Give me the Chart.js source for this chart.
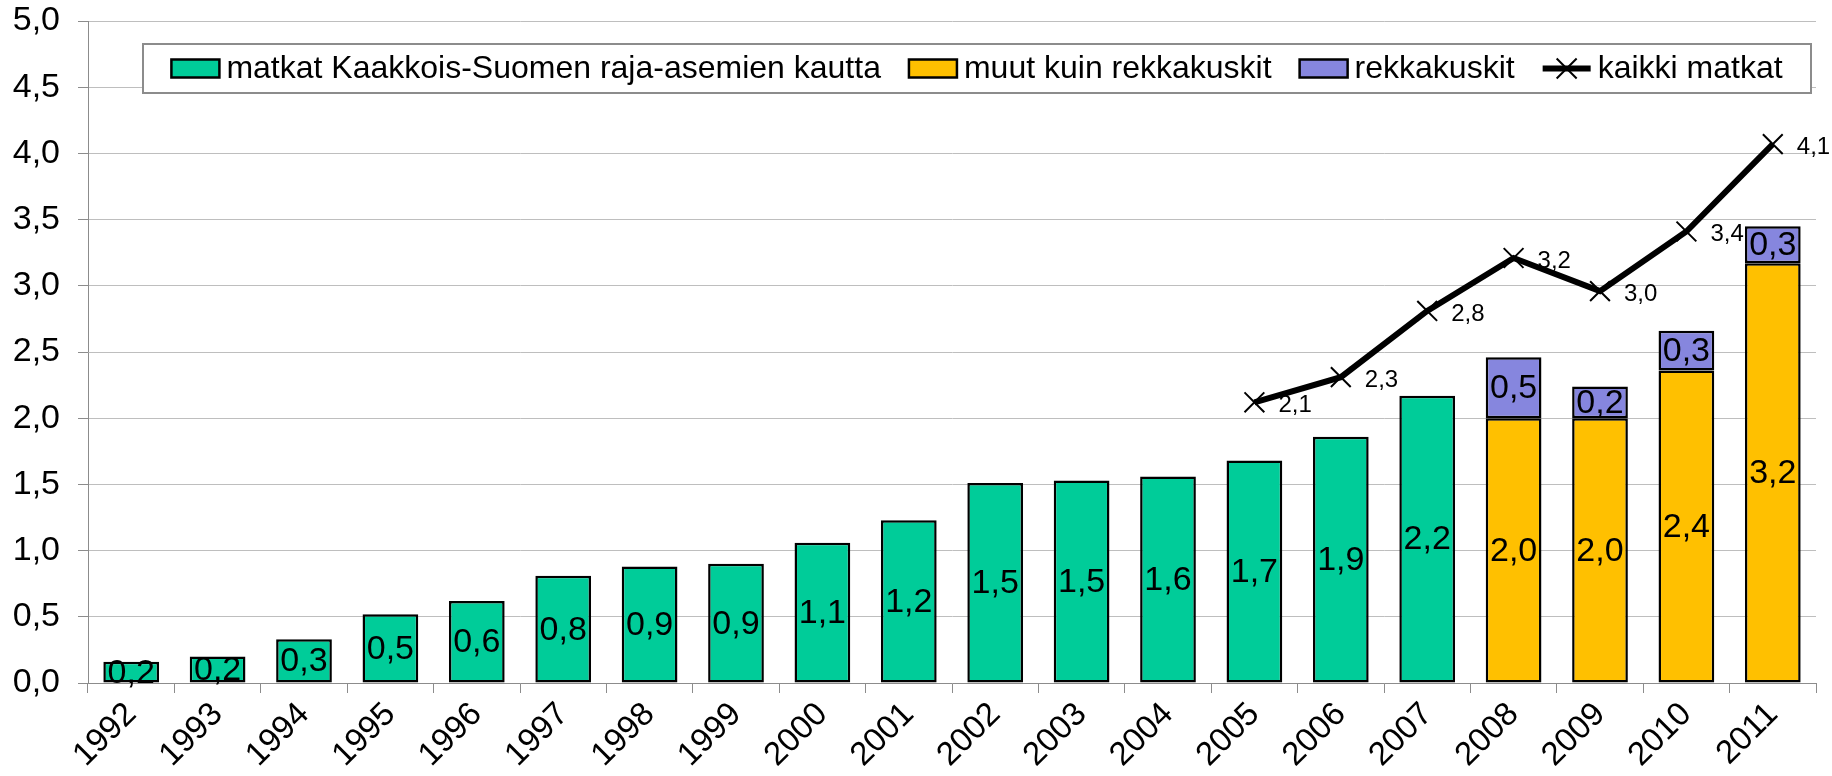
<!DOCTYPE html>
<html lang="fi">
<head>
<meta charset="utf-8">
<title>Matkat Kaakkois-Suomen raja-asemien kautta</title>
<script src="https://cdn.jsdelivr.net/npm/chart.js@4/dist/chart.umd.min.js"></script>
<style>
    html, body { margin: 0; padding: 0; background: #ffffff; }
    #wrap { width: 1832px; height: 776px; position: relative; }
</style>
</head>
<body>
<div id="wrap"><canvas id="chart"></canvas></div>
<script>
// vuodet ja sarjat (milj. matkaa)
const years = ['1992', '1993', '1994', '1995', '1996', '1997', '1998', '1999', '2000', '2001',
               '2002', '2003', '2004', '2005', '2006', '2007', '2008', '2009', '2010', '2011'];
const kaakkoisSuomi = [0.16, 0.20, 0.33, 0.52, 0.62, 0.81, 0.88, 0.90, 1.06, 1.23,
                       1.51, 1.53, 1.56, 1.68, 1.86, 2.17, null, null, null, null];
const muutKuinRekka = [null, null, null, null, null, null, null, null, null, null,
                       null, null, null, null, null, null, 2.00, 2.00, 2.36, 3.17];
const rekkakuskit = [null, null, null, null, null, null, null, null, null, null,
                     null, null, null, null, null, null, 0.46, 0.24, 0.30, 0.28];
const kaikkiMatkat = [null, null, null, null, null, null, null, null, null, null,
                      null, null, null, 2.12, 2.31, 2.81, 3.21, 2.96, 3.41, 4.07];
const yTicks = [0, 0.5, 1, 1.5, 2, 2.5, 3, 3.5, 4, 4.5, 5];

const FONT = "'Liberation Sans', Arial, sans-serif";
const COLORS = { green: '#00CC99', orange: '#FFC000', purple: '#8686DE', grid: '#BEBEBE', axis: '#8C8C8C' };

const fmt = (v) => v.toFixed(1).replace('.', ',');

// arvot palkkien keskelle ja viivan pisteiden viereen
const valueLabels = {
    id: 'valueLabels',
    afterDatasetsDraw(chart) {
        const ctx = chart.ctx;
        ctx.save();
        ctx.fillStyle = '#000';
        chart.data.datasets.forEach((ds, i) => {
            const meta = chart.getDatasetMeta(i);
            meta.data.forEach((el, j) => {
                const v = ds.data[j];
                if (v === null || v === undefined) return;
                if (ds.type === 'line') {
                    ctx.font = `24px ${FONT}`;
                    ctx.textAlign = 'left';
                    ctx.textBaseline = 'middle';
                    const w = ctx.measureText(fmt(v)).width;
                    const x = Math.min(el.x + 24, chart.width - w - 1);
                    ctx.fillText(fmt(v), x, el.y + 3);
                } else {
                    ctx.font = `34px ${FONT}`;
                    ctx.textAlign = 'center';
                    ctx.textBaseline = 'middle';
                    ctx.fillText(fmt(v), el.x, (el.y + el.base) / 2 + 1);
                }
            });
        });
        ctx.restore();
    }
};

// kehystetty selite piirtoalueen yläosassa
const boxedLegend = {
    id: 'boxedLegend',
    afterDraw(chart) {
        const ctx = chart.ctx;
        const box = { left: 143, top: 44, right: 1811, bottom: 93 };
        const swW = 48, swH = 18, swGap = 7, itemGap = 28;
        ctx.save();
        ctx.font = `32px ${FONT}`;
        const items = chart.data.datasets.map(ds => ({ ds, w: swW + swGap + ctx.measureText(ds.label).width }));
        const total = items.reduce((a, it) => a + it.w, 0) + itemGap * (items.length - 1);

        ctx.fillStyle = '#fff';
        ctx.fillRect(box.left, box.top, box.right - box.left, box.bottom - box.top);
        ctx.strokeStyle = '#8C8C8C';
        ctx.lineWidth = 2;
        ctx.strokeRect(box.left, box.top, box.right - box.left, box.bottom - box.top);

        const cy = (box.top + box.bottom) / 2;
        let x = (box.left + box.right) / 2 - total / 2;
        items.forEach(({ ds, w }) => {
            if (ds.type === 'line') {
                ctx.strokeStyle = '#000';
                ctx.lineWidth = 6;
                ctx.beginPath();
                ctx.moveTo(x, cy);
                ctx.lineTo(x + swW, cy);
                ctx.stroke();
                ctx.lineWidth = 2;
                const r = 10, mx = x + swW / 2;
                ctx.beginPath();
                ctx.moveTo(mx - r, cy - r); ctx.lineTo(mx + r, cy + r);
                ctx.moveTo(mx + r, cy - r); ctx.lineTo(mx - r, cy + r);
                ctx.stroke();
            } else {
                ctx.fillStyle = ds.backgroundColor;
                ctx.fillRect(x, cy - swH / 2, swW, swH);
                ctx.strokeStyle = '#000';
                ctx.lineWidth = 2.5;
                ctx.strokeRect(x, cy - swH / 2, swW, swH);
            }
            ctx.fillStyle = '#000';
            ctx.textAlign = 'left';
            ctx.textBaseline = 'middle';
            ctx.fillText(ds.label, x + swW + swGap, cy + 1);
            x += w + itemGap;
        });
        ctx.restore();
    }
};

const barDefaults = { type: 'bar', borderColor: '#000', borderWidth: 2.5, borderSkipped: false,
                      barPercentage: 0.645, categoryPercentage: 1, order: 1 };

new Chart(document.getElementById('chart'), {
    data: {
        labels: years,
        datasets: [
            { ...barDefaults, label: 'matkat Kaakkois-Suomen raja-asemien kautta', data: kaakkoisSuomi, backgroundColor: COLORS.green },
            { ...barDefaults, label: 'muut kuin rekkakuskit', data: muutKuinRekka, backgroundColor: COLORS.orange },
            { ...barDefaults, label: 'rekkakuskit', data: rekkakuskit, backgroundColor: COLORS.purple },
            {
                type: 'line', label: 'kaikki matkat', data: kaikkiMatkat, stack: 'line', order: 0,
                borderColor: '#000', borderWidth: 6, pointStyle: 'crossRot', pointRadius: 14,
                pointBorderWidth: 2, pointBorderColor: '#000', pointBackgroundColor: '#000',
                tension: 0, fill: false
            }
        ]
    },
    options: {
        responsive: true,
        maintainAspectRatio: false,
        animation: false,
        layout: { padding: { top: 21, right: 12, left: 0, bottom: 0 } },
        scales: {
            x: {
                stacked: true,
                offset: true,
                afterFit: (s) => { s.height = 93; s.paddingLeft = 0; s.paddingRight = 0; },
                grid: {
                    offset: true,
                    color: (c) => c.index === years.length ? COLORS.axis : 'transparent',
                    tickColor: COLORS.axis, tickLength: 10
                },
                border: { color: COLORS.axis, width: 1 },
                ticks: { color: '#000', font: { family: FONT, size: 33 }, minRotation: 45, maxRotation: 45, padding: 2, autoSkip: false }
            },
            y: {
                stacked: true,
                min: 0, max: 5,
                afterFit: (s) => { s.width = 88; s.paddingTop = 0; s.paddingBottom = 0; },
                afterBuildTicks: (s) => { s.ticks = yTicks.map(v => ({ value: v })); },
                grid: { color: COLORS.grid, tickColor: COLORS.axis, tickLength: 10 },
                border: { color: COLORS.axis, width: 1 },
                ticks: { color: '#000', font: { family: FONT, size: 34 }, padding: 18, callback: (v) => fmt(v) }
            }
        },
        plugins: {
            legend: { display: false },
            tooltip: { enabled: false }
        }
    },
    plugins: [valueLabels, boxedLegend]
});
</script>
</body>
</html>
